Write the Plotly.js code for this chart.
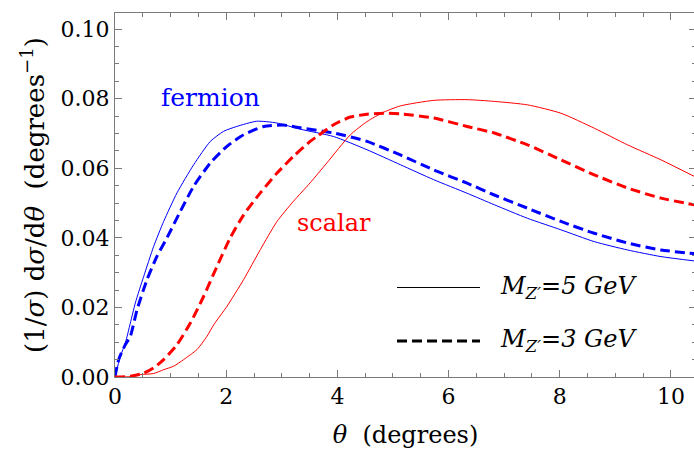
<!DOCTYPE html>
<html>
<head>
<meta charset="utf-8">
<script src="https://cdn.plot.ly/plotly-3.0.1.min.js"></script>
<style>
html,body{margin:0;padding:0;background:#fff;overflow:hidden;}
#chart{width:694px;height:452px;overflow:hidden;}
</style>
</head>
<body>
<div id="chart"></div>
<script>
// ---- data ----
const fermion5_theta = [0, 0.096, 0.186, 0.276, 0.366, 0.516, 0.695, 0.875, 1.115, 1.415, 1.715, 1.954, 2.19, 2.55, 2.91, 3.333, 3.933, 4.533, 5.133, 5.733, 6.333, 6.822, 7.42, 8.02, 8.62, 9.22, 9.82, 10.45];
const fermion5_val   = [0, 0.0059, 0.0098, 0.0155, 0.0213, 0.0289, 0.0375, 0.0447, 0.0529, 0.0610, 0.0677, 0.0706, 0.0720, 0.0735, 0.0730, 0.0712, 0.0691, 0.0653, 0.0610, 0.0567, 0.0528, 0.0495, 0.0456, 0.0423, 0.0389, 0.0365, 0.0346, 0.0333];

const fermion3_theta = [0, 0.066, 0.186, 0.276, 0.396, 0.576, 0.755, 0.935, 1.175, 1.415, 1.715, 2.014, 2.314, 2.674, 3.03, 3.333, 3.933, 4.533, 5.133, 5.733, 6.333, 6.822, 7.42, 8.02, 8.62, 9.22, 9.82, 10.45];
const fermion3_val   = [0, 0.0050, 0.0093, 0.0117, 0.0193, 0.0280, 0.0347, 0.0400, 0.0476, 0.0548, 0.0615, 0.0663, 0.0696, 0.0720, 0.0724, 0.0716, 0.0701, 0.0677, 0.0638, 0.0595, 0.0557, 0.0523, 0.0485, 0.0447, 0.0413, 0.0385, 0.0365, 0.0354];

const scalar3_theta = [0, 0.276, 0.516, 0.695, 0.875, 1.115, 1.355, 1.595, 1.835, 2.074, 2.314, 2.614, 2.914, 3.21, 3.51, 3.633, 3.933, 4.233, 4.533, 4.833, 5.133, 5.733, 6.333, 6.822, 7.42, 8.02, 8.62, 9.22, 9.82, 10.45];
const scalar3_val   = [0, 0.0002, 0.0011, 0.0026, 0.0050, 0.0093, 0.0155, 0.0232, 0.0318, 0.0400, 0.0466, 0.0529, 0.0586, 0.0634, 0.0677, 0.0691, 0.0725, 0.0747, 0.0755, 0.0758, 0.0756, 0.0744, 0.0720, 0.0701, 0.0667, 0.0624, 0.0581, 0.0543, 0.0514, 0.0494];

const scalar5_theta = [0, 0.276, 0.456, 0.695, 0.875, 1.055, 1.235, 1.475, 1.655, 1.775, 2.014, 2.314, 2.614, 2.914, 3.21, 3.51, 3.81, 4.233, 4.533, 4.833, 5.133, 5.733, 6.333, 6.822, 7.42, 8.02, 8.62, 9.22, 9.82, 10.45];
const scalar5_val   = [0, 0.0001, 0.0007, 0.0010, 0.0021, 0.0031, 0.0050, 0.0079, 0.0117, 0.0150, 0.0203, 0.0280, 0.0366, 0.0447, 0.0505, 0.0558, 0.0615, 0.0696, 0.0734, 0.0761, 0.0779, 0.0795, 0.0797, 0.0792, 0.0782, 0.0758, 0.0715, 0.0667, 0.0624, 0.0574];

const xTicks = [0, 2, 4, 6, 8, 10];
const yTicks = [0, 0.02, 0.04, 0.06, 0.08, 0.10];
const labelFermion = 'fermion';
const labelScalar = 'scalar';
const legend5 = '<i>M</i><sub><i>Z\u2032</i></sub><i>=5 GeV</i>';
const legend3 = '<i>M</i><sub><i>Z\u2032</i></sub><i>=3 GeV</i>';

const BLUE = 'rgb(0,0,255)', RED = 'rgb(255,0,0)';
const FONT = 'DejaVu Serif';
const AX = '#7a7a7a';
const DASH = '10px,5px';

const traces = [
  {x: fermion5_theta, y: fermion5_val, mode: 'lines', line: {color: BLUE, width: 1, shape: 'spline', smoothing: 0.6}},
  {x: fermion3_theta, y: fermion3_val, mode: 'lines', line: {color: BLUE, width: 3, dash: DASH, shape: 'spline', smoothing: 0.6}},
  {x: scalar5_theta, y: scalar5_val, mode: 'lines', line: {color: RED, width: 1, shape: 'spline', smoothing: 0.6}},
  {x: scalar3_theta, y: scalar3_val, mode: 'lines', line: {color: RED, width: 3, dash: DASH, shape: 'spline', smoothing: 0.6}}
];

const axisCommon = {
  showgrid: false, zeroline: false, showline: true, linecolor: AX, linewidth: 1,
  mirror: 'allticks', ticks: 'inside', ticklen: 7, tickwidth: 1, tickcolor: AX,
  tickfont: {family: FONT, size: 22, color: '#000'},
  minor: {ticks: 'inside', ticklen: 4, tickwidth: 1, tickcolor: AX, showgrid: false}
};

const layout = {
  width: 696, height: 452,
  margin: {l: 115, r: 0, t: 13, b: 75},
  paper_bgcolor: '#fff', plot_bgcolor: '#fff',
  showlegend: false,
  font: {family: FONT, color: '#000', size: 22},
  xaxis: Object.assign({}, axisCommon, {
    range: [0, 10.45], tickvals: xTicks, ticktext: xTicks.map(String),
    minor: Object.assign({}, axisCommon.minor, {dtick: 0.5, tick0: 0}),
    title: {text: '<i>\u03B8</i>\u00A0\u00A0(degrees)', font: {family: FONT, size: 24, color: '#000'}, standoff: 17}
  }),
  yaxis: Object.assign({}, axisCommon, {
    range: [0, 0.1046], tickvals: yTicks, ticktext: yTicks.map(v => v.toFixed(2)),
    minor: Object.assign({}, axisCommon.minor, {dtick: 0.005, tick0: 0}),
    title: {text: '(1/<i>\u03C3</i>) d<i>\u03C3</i>/d<i>\u03B8</i>\u00A0\u00A0(degrees<sup>\u22121</sup>)', font: {family: FONT, size: 26, color: '#000'}, standoff: 8}
  }),
  annotations: [
    {x: 1.71, y: 0.0802, xref: 'x', yref: 'y', text: labelFermion, showarrow: false, font: {family: FONT, size: 25, color: BLUE}},
    {x: 3.94, y: 0.0443, xref: 'x', yref: 'y', text: labelScalar, showarrow: false, font: {family: FONT, size: 24, color: RED}},
    {x: 0.659, y: 0.246, xref: 'paper', yref: 'paper', xanchor: 'left', yanchor: 'middle', text: legend5, showarrow: false, font: {family: FONT, size: 24, color: '#000'}},
    {x: 0.659, y: 0.099, xref: 'paper', yref: 'paper', xanchor: 'left', yanchor: 'middle', text: legend3, showarrow: false, font: {family: FONT, size: 24, color: '#000'}}
  ],
  shapes: [
    {type: 'line', xref: 'paper', yref: 'paper', x0: 0.4854, x1: 0.6282, y0: 0.2459, y1: 0.2459, line: {color: '#000', width: 1}},
    {type: 'line', xref: 'paper', yref: 'paper', x0: 0.4854, x1: 0.6282, y0: 0.0989, y1: 0.0989, line: {color: '#000', width: 3, dash: DASH}}
  ]
};

Plotly.newPlot('chart', traces, layout, {staticPlot: true, displayModeBar: false});
</script>
</body>
</html>
